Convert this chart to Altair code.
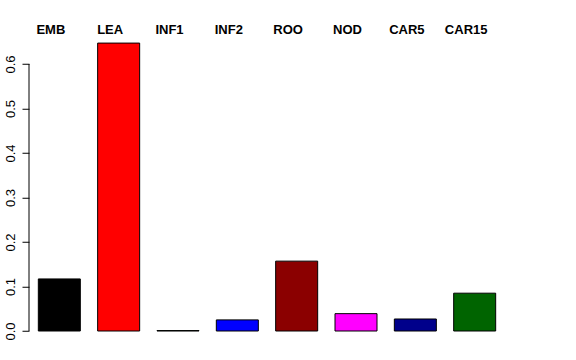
import altair as alt
import pandas as pd

categories = ["EMB", "LEA", "INF1", "INF2", "ROO", "NOD", "CAR5", "CAR15"]
values = [0.117, 0.647, 0.001, 0.025, 0.157, 0.039, 0.027, 0.085]
colors = ["#000000", "#FF0000", "#00CD00", "#0000FF", "#8B0000", "#FF00FF", "#00008B", "#006400"]
y_ticks = [0.0, 0.1, 0.2, 0.3, 0.4, 0.5, 0.6]

df = pd.DataFrame({"cat": categories, "val": values, "col": colors})
axis_df = pd.DataFrame({"lo": [min(y_ticks)], "hi": [max(y_ticks)]})

FONT = "Liberation Sans"

xscale = alt.Scale(domain=categories, paddingInner=0.292, paddingOuter=0.157)
yscale = alt.Scale(domain=[0, 0.65], nice=False, zero=True)

bars = alt.Chart(df).mark_bar(stroke="black", strokeWidth=1).encode(
    x=alt.X("cat:N", scale=xscale, axis=None, sort=categories),
    y=alt.Y(
        "val:Q",
        scale=yscale,
        axis=alt.Axis(
            values=y_ticks,
            format=".1f",
            title=None,
            domain=False,
            grid=False,
            tickSize=7,
            tickColor="black",
            tickWidth=1,
            labelAngle=270,
            labelAlign="center",
            labelBaseline="bottom",
            labelPadding=5,
            labelFont=FONT,
            labelFontSize=13,
            labelColor="black",
            labelOverlap=False,
            labelFlush=False,
        ),
    ),
    color=alt.Color("col:N", scale=None),
)

labels = alt.Chart(df).mark_text(
    font=FONT, fontSize=13, fontWeight="bold", color="black",
    baseline="alphabetic", align="center", dx=-8.5,
).encode(
    x=alt.X("cat:N", scale=xscale, axis=None, sort=categories),
    y=alt.value(-8),
    text="cat:N",
)

axis_line = alt.Chart(axis_df).mark_rule(color="black", strokeWidth=1).encode(
    x=alt.value(0),
    y=alt.Y("lo:Q", scale=yscale),
    y2="hi:Q",
)

chart = alt.layer(bars, labels, axis_line).properties(
    width=476,
    height=289.25,
    autosize=alt.AutoSizeParams(type="none"),
    padding={"left": 29, "top": 41.75, "right": 71, "bottom": 29},
    background="white",
).configure_view(stroke=None)

chart.save("out.html", embed_options={"renderer": "svg", "actions": False})
